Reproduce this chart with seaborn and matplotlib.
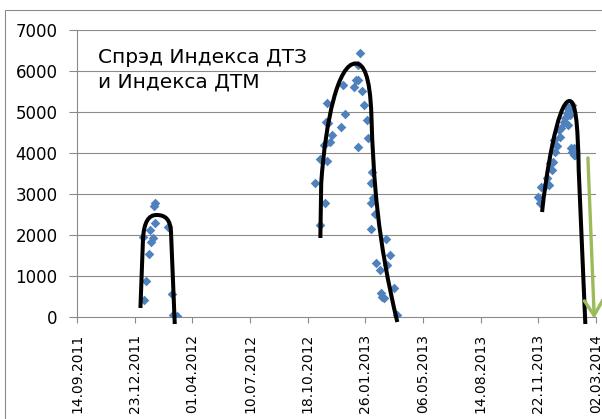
import matplotlib
matplotlib.use("Agg")
import matplotlib.dates as mdates
import matplotlib.pyplot as plt
import pandas as pd
import seaborn as sns
from matplotlib.patches import PathPatch, Rectangle
from matplotlib.path import Path

# spread points (date, value)
spread_dates = [
    "2012-01-06", "2012-01-09", "2012-01-11", "2012-01-16", "2012-01-18", "2012-01-21",
    "2012-01-24", "2012-01-25", "2012-01-27", "2012-01-28", "2012-02-19", "2012-02-26",
    "2012-02-27", "2012-03-06",
    "2012-10-31", "2012-11-09", "2012-11-09", "2012-11-15", "2012-11-17", "2012-11-18",
    "2012-11-20", "2012-11-21", "2012-11-23", "2012-11-26", "2012-11-29", "2012-12-14",
    "2012-12-19", "2012-12-21", "2013-01-06", "2013-01-09", "2013-01-13", "2013-01-14",
    "2013-01-14", "2013-01-17", "2013-01-20", "2013-01-23", "2013-01-29", "2013-01-30",
    "2013-02-04", "2013-02-04", "2013-02-05", "2013-02-07", "2013-02-08", "2013-02-12",
    "2013-02-14", "2013-02-21", "2013-02-22", "2013-02-24", "2013-02-27", "2013-03-02",
    "2013-03-05", "2013-03-10", "2013-03-16", "2013-03-22",
    "2013-11-22", "2013-11-25", "2013-11-26", "2013-12-01", "2013-12-07", "2013-12-10",
    "2013-12-13", "2013-12-16", "2013-12-18", "2013-12-19", "2013-12-21", "2013-12-24",
    "2013-12-27", "2013-12-30", "2013-12-31", "2014-01-05", "2014-01-08", "2014-01-10",
    "2014-01-11", "2014-01-13", "2014-01-14", "2014-01-16", "2014-01-17", "2014-01-19",
    "2014-01-20", "2014-01-22", "2014-01-23", "2014-01-25",
]
spread_values = [
    1960, 415, 880, 1540, 2120, 1840,
    1920, 2710, 2290, 2780, 2200, 550,
    50, 25,
    3260, 3850, 2240, 4200, 2790, 4760,
    5210, 3800, 4720, 4280, 4440, 4640,
    5660, 4950, 5600, 5780, 6150, 5780,
    4140, 6430, 5500, 5170, 4800, 4360,
    2790, 2140, 3260, 3540, 2900, 2500,
    1310, 1150, 580, 495, 455, 1900,
    1270, 1510, 700, 50,
    2930, 2770, 3180, 3180, 3380, 3220,
    3750, 3590, 3790, 4320, 4030, 4160,
    4560, 4400, 4600, 4760, 4850, 4970,
    5130, 4680, 5050, 4930, 4110, 5170,
    4030, 3950, 4110, 3950,
]

# hand-drawn trend arcs: M = start, L = straight, C = bezier control/end
arc1_dates = ["2012-01-02", "2012-01-06 12:00", "2012-01-08 12:00", "2012-01-16", "2012-01-30",
              "2012-02-15", "2012-02-23", "2012-02-24", "2012-03-01 12:00"]
arc1_values = [220, 1927, 2317, 2488, 2488, 2488, 2366, 2073, -171]
arc1_kind = ["M", "L", "C", "C", "C", "C", "C", "C", "L"]

arc2_dates = ["2012-11-09", "2012-11-10 12:00", "2012-11-18", "2012-12-10", "2013-01-09",
              "2013-01-23", "2013-02-03", "2013-02-05 12:00", "2013-02-09", "2013-02-16",
              "2013-03-22 12:00"]
arc2_values = [1927, 3268, 4805, 6183, 6183, 6183, 5902, 4927, 3341, 1878, -122]
arc2_kind = ["M", "L", "C", "C", "C", "C", "C", "C", "C", "C", "C"]

arc3_dates = ["2013-11-28 12:00", "2013-12-04", "2013-12-25", "2014-01-15", "2014-01-25",
              "2014-01-29 12:00", "2014-01-31", "2014-02-11 12:00"]
arc3_values = [2561, 3341, 5268, 5268, 5268, 4805, 3585, -171]
arc3_kind = ["M", "C", "C", "C", "C", "C", "C", "L"]

arrow_start = ("2014-02-16", 3880)
arrow_end = ("2014-02-27", -40)

tick_labels = ["14.09.2011", "23.12.2011", "01.04.2012", "10.07.2012", "18.10.2012",
               "26.01.2013", "06.05.2013", "14.08.2013", "22.11.2013", "02.03.2014"]
y_ticks = [0, 1000, 2000, 3000, 4000, 5000, 6000, 7000]
title_lines = ["Спрэд Индекса ДТЗ", "и Индекса ДТМ"]

points = pd.DataFrame({"date": pd.to_datetime(spread_dates), "spread": spread_values})
ticks = pd.to_datetime(tick_labels, format="%d.%m.%Y")

sns.set_theme(style="white")
plt.rcParams["font.family"] = ["DejaVu Sans"]

fig = plt.figure(figsize=(6.02, 4.19), dpi=100)
ax = fig.add_axes([77 / 602, 1 - 317 / 419, 519 / 602, 287 / 419])

grid = "#8a8a8a"
for v in y_ticks[1:]:
    ax.axhline(v, color=grid, lw=0.8, zorder=0)

sns.scatterplot(data=points, x="date", y="spread", marker="D", s=24, color="#4F81BD",
                linewidth=0, ax=ax, zorder=3)

codes = {"M": Path.MOVETO, "L": Path.LINETO, "C": Path.CURVE4}
for d, v, k in [(arc1_dates, arc1_values, arc1_kind),
                (arc2_dates, arc2_values, arc2_kind),
                (arc3_dates, arc3_values, arc3_kind)]:
    xs = mdates.date2num(pd.to_datetime(d, format="ISO8601"))
    path = Path(list(zip(xs, v)), [codes[c] for c in k])
    ax.add_patch(PathPatch(path, fill=False, edgecolor="black", lw=2.9, capstyle="butt",
                           joinstyle="round", clip_on=False, zorder=4))

ax.annotate("", xy=(pd.Timestamp(arrow_end[0]), arrow_end[1]),
            xytext=(pd.Timestamp(arrow_start[0]), arrow_start[1]),
            arrowprops=dict(arrowstyle="->,head_length=0.9,head_width=0.55", color="#9BBB59",
                            lw=2.4, mutation_scale=12, shrinkA=0, shrinkB=0),
            annotation_clip=False, zorder=5)

ax.set_xlim(ticks[0], ticks[-1])
ax.set_ylim(0, 7000)
ax.set_xticks(ticks)
ax.set_xticklabels(tick_labels, rotation=90, fontsize=10, color="black")
ax.set_yticks(y_ticks)
ax.set_yticklabels([str(v) for v in y_ticks], fontsize=12, color="black")
ax.set_xlabel("")
ax.set_ylabel("")
ax.tick_params(axis="x", direction="out", length=4, width=0.8, color=grid, pad=8, bottom=True)
ax.tick_params(axis="y", direction="out", length=6, width=0.8, color=grid, pad=8, left=True)
for side in ["top", "right"]:
    ax.spines[side].set_visible(False)
for side in ["left", "bottom"]:
    ax.spines[side].set_color(grid)
    ax.spines[side].set_linewidth(0.8)

ax.text(0.040, 0.885, title_lines[0], transform=ax.transAxes, fontsize=14.5,
        color="black", va="baseline")
ax.text(0.040, 0.801, title_lines[1], transform=ax.transAxes, fontsize=14.5,
        color="black", va="baseline")

fig.add_artist(Rectangle((5 / 602, -0.1), 1.2, 1 - 10 / 419 + 0.1, transform=fig.transFigure,
                         fill=False, edgecolor="#8c8c8c", lw=0.8))

fig.savefig("out.png", dpi=100)
